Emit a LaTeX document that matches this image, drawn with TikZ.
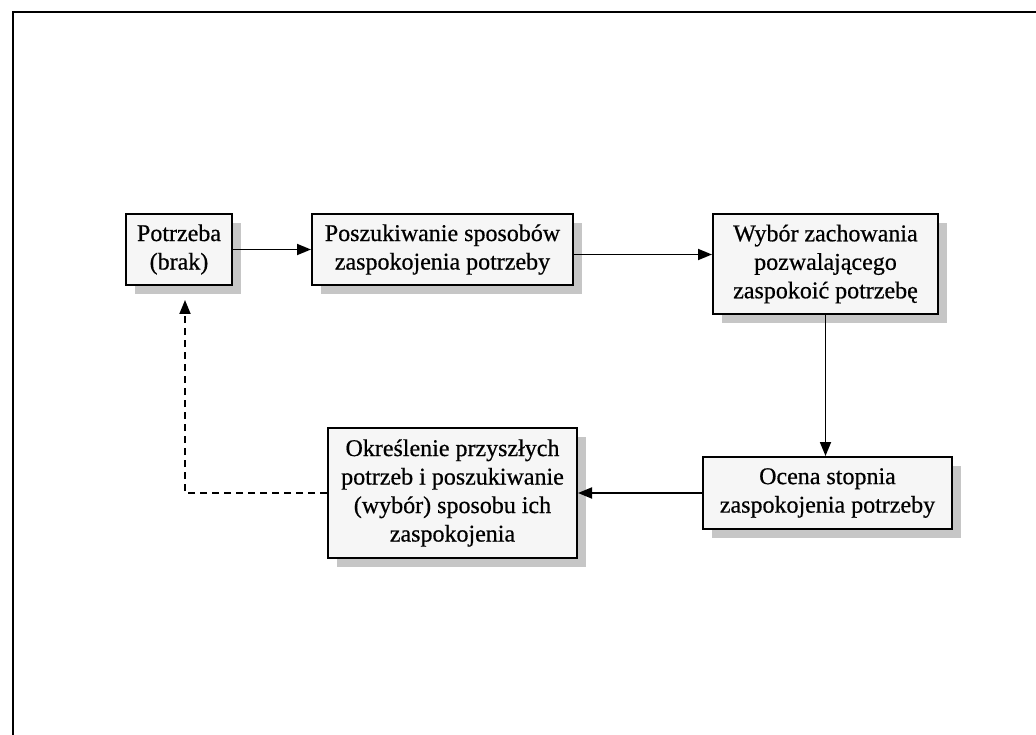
\documentclass[tikz,border=0pt]{standalone}
\usepackage{fontspec}
\setmainfont{Liberation Serif}
\newfontfamily\boxfont[FakeBold=0.6]{Liberation Serif}
\usetikzlibrary{arrows.meta,shadows}
\begin{document}
\begin{tikzpicture}[x=1pt,y=-1pt,
  box/.style={draw=black,line width=2pt,fill=gray!7,inner sep=0pt,
    align=center,font=\boxfont\fontsize{24}{28.5}\selectfont,
    drop shadow={shadow xshift=9pt,shadow yshift=-9pt,fill=gray!45,opacity=1}},
  flow/.style={line width=1.8pt,-{Triangle[length=14pt,width=11pt]}},
  back/.style={flow,dashed,dash pattern=on 7pt off 5pt}]
\useasboundingbox (0,0) rectangle (1036,735);
% frame
\draw[line width=2.4pt] (13,735) -- (13,12) -- (1036,12);
% boxes
\node[box,minimum width=106pt,minimum height=71pt] (b1) at (179,249.5) {Potrzeba\\(brak)};
\node[box,minimum width=261pt,minimum height=71pt] (b2) at (442.5,249.5) {Poszukiwanie sposobów\\zaspokojenia potrzeby};
\node[box,minimum width=225pt,minimum height=100pt] (b3) at (825.5,264) {Wybór zachowania\\pozwalającego\\zaspokoić potrzebę};
\node[box,minimum width=249pt,minimum height=72pt] (b4) at (827.5,493) {Ocena stopnia\\zaspokojenia potrzeby};
\node[box,minimum width=249pt,minimum height=130pt] (b5) at (452.5,493) {Określenie przyszłych\\potrzeb i poszukiwanie\\(wybór) sposobu ich\\zaspokojenia};
% connectors
\draw[flow] (b1.east) -- (b2.west);
\draw[flow] ([yshift=-5pt]b2.east) -- ([yshift=-5pt]b2.east -| b3.west);
\draw[flow] (b3.south) -- (b3.south |- b4.north);
\draw[flow] (b4.west) -- (b5.east);
\draw[back] (b5.west) -| ([xshift=6pt,yshift=-14pt]b1.south);
\end{tikzpicture}
\end{document}
